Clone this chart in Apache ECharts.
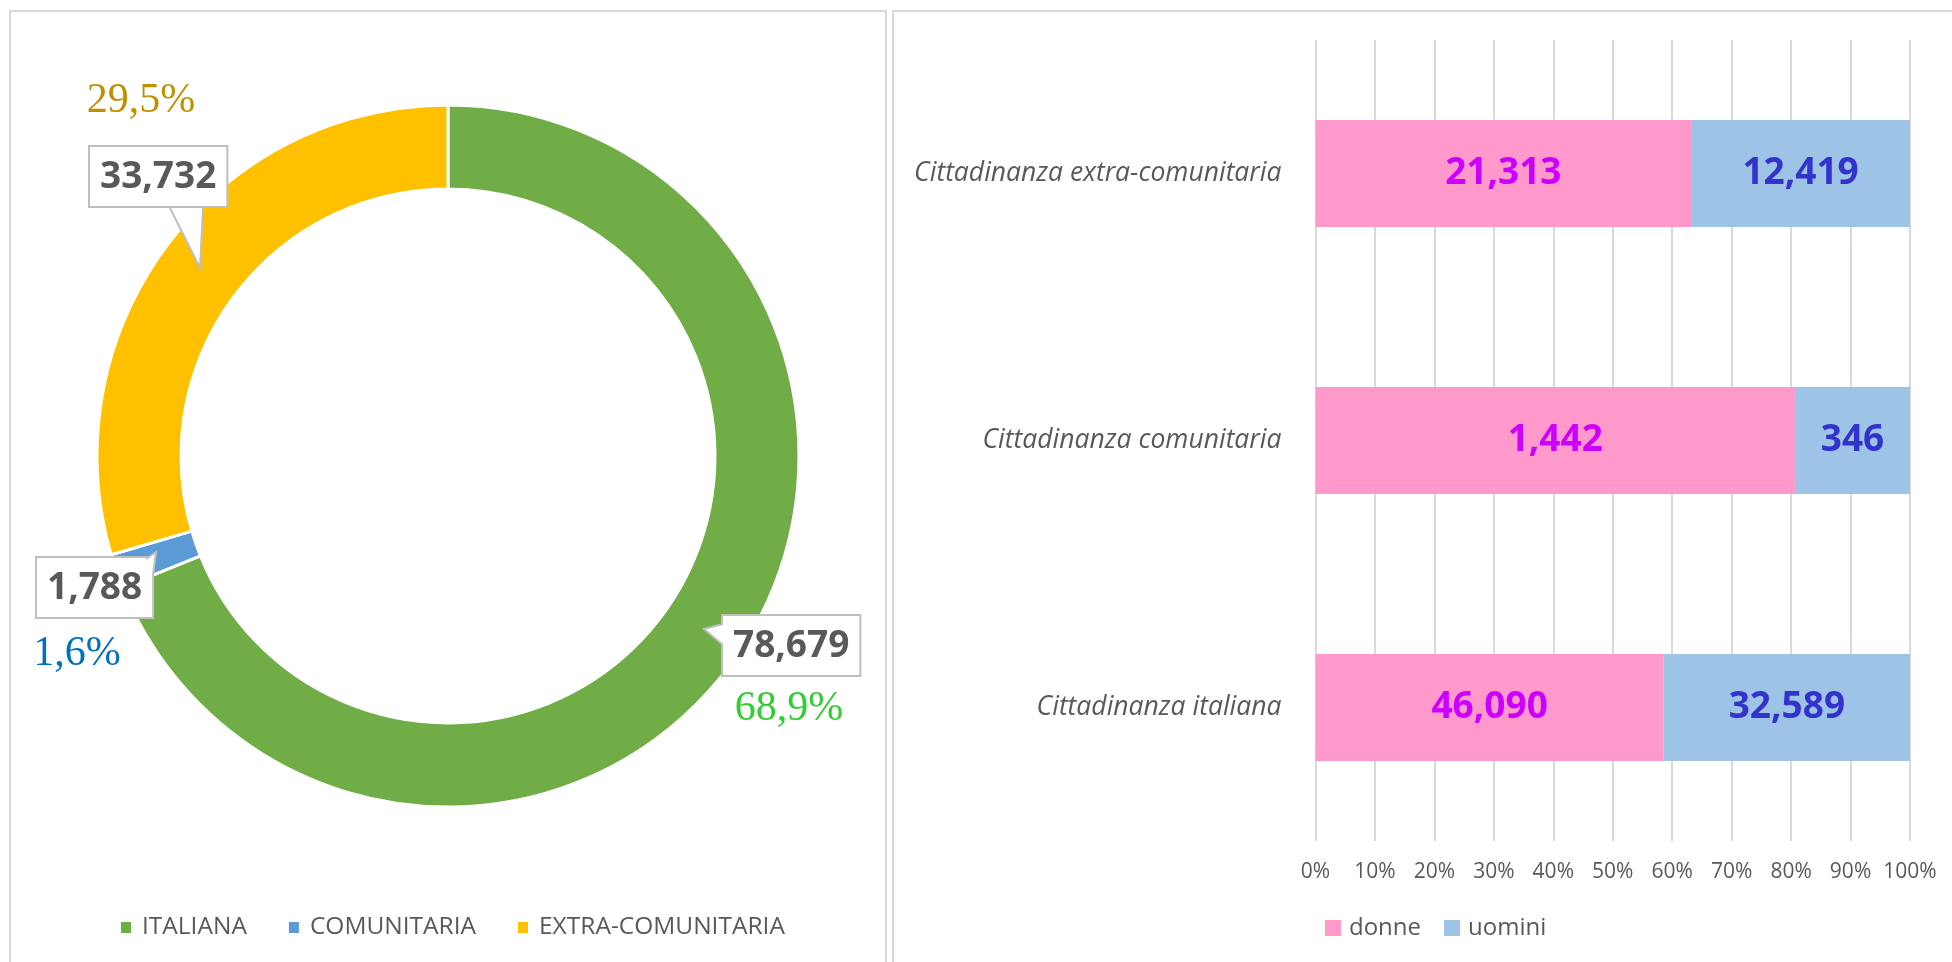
<!DOCTYPE html>
<html>
<head>
<meta charset="utf-8">
<style>
  html,body{margin:0;padding:0;background:#fff}
  #main{width:1952px;height:962px}
</style>
<script src="https://cdn.jsdelivr.net/npm/echarts@6/dist/echarts.min.js"></script>
</head>
<body>
<div id="main"></div>
<script>
// ---------- dati ----------
const pieNames  = ['ITALIANA', 'COMUNITARIA', 'EXTRA-COMUNITARIA'];
const pieValues = [78679, 1788, 33732];

const barCategories = ['Cittadinanza italiana', 'Cittadinanza comunitaria', 'Cittadinanza extra-comunitaria'];
const donne  = [46090, 1442, 21313];
const uomini = [32589, 346, 12419];

// ---------- stile ----------
const pieColors = ['#70AD47', '#5B9BD5', '#FFC000'];
const pctColors = ['#33CC33', '#0070C0', '#BF9000'];
const grey = '#595959';
const sans = 'Open Sans';

// posizioni delle etichette (box valore + percentuale), in px della pagina
const boxPos = [[723, 616], [37, 558], [90, 147]];
const pctPos = [[789, 709], [77, 654], [141, 101]];
// "code" dei fumetti: [base1, punta, base2]
const tails = [
  [[723, 624], [704, 629], [723, 645]],
  [[146, 559], [156, 552], [153, 575]],
  [[170, 208], [200, 268], [203, 208]]
];

const total = pieValues.reduce((a, b) => a + b, 0);
const fmt = v => v.toLocaleString('en-US');
const pct = v => (v / total * 100).toFixed(1).replace('.', ',') + '%';

const tailGraphics = [];
tails.forEach(t => {
  tailGraphics.push({type: 'polygon', z: 10, silent: true, shape: {points: t}, style: {fill: '#fff', stroke: null}});
  tailGraphics.push({type: 'polyline', z: 11, silent: true, shape: {points: t}, style: {fill: null, stroke: '#BFBFBF', lineWidth: 2}});
});

const chart = echarts.init(document.getElementById('main'));
chart.setOption({
  animation: false,
  graphic: [
    {type: 'rect', shape: {x: 10, y: 11, width: 876, height: 960}, style: {fill: 'none', stroke: '#D9D9D9', lineWidth: 2}, silent: true},
    {type: 'rect', shape: {x: 893, y: 11, width: 1080, height: 960}, style: {fill: 'none', stroke: '#D9D9D9', lineWidth: 2}, silent: true}
  ].concat(tailGraphics),
  legend: [
    {
      data: pieNames, left: 119, top: 915, padding: 0, icon: 'rect', itemWidth: 12, itemHeight: 13, itemGap: 40,
      selectedMode: false,
      textStyle: {color: grey, fontFamily: sans, fontSize: 24.5, padding: [0, 0, 0, 5]}
    },
    {
      data: ['donne', 'uomini'], left: 1325, top: 916, padding: 0, icon: 'rect', itemWidth: 16, itemHeight: 16, itemGap: 23,
      selectedMode: false,
      textStyle: {color: grey, fontFamily: sans, fontSize: 24, padding: [0, 0, 0, 3]}
    }
  ],
  grid: {left: 1315.5, right: 42, top: 40, bottom: 121},
  xAxis: {
    type: 'value', min: 0, max: 100, interval: 10,
    axisLine: {show: false}, axisTick: {show: false},
    splitLine: {lineStyle: {color: '#D9D9D9', width: 2}},
    axisLabel: {formatter: '{value}%', color: grey, fontFamily: sans, fontSize: 21, margin: 21}
  },
  yAxis: {
    type: 'category', data: barCategories,
    axisLine: {show: false}, axisTick: {show: false},
    axisLabel: {color: grey, fontFamily: sans, fontStyle: 'italic', fontSize: 26.5, margin: 34}
  },
  series: [
    {
      type: 'pie', center: [448, 456], radius: [267, 351], startAngle: 90, clockwise: true,
      avoidLabelOverlap: false, emphasis: {disabled: true},
      itemStyle: {borderColor: '#fff', borderWidth: 3},
      label: {
        show: true, position: 'outside', formatter: p => fmt(p.value),
        fontFamily: sans, fontWeight: 'bold', fontSize: 37, lineHeight: 46, color: grey,
        backgroundColor: '#fff', borderColor: '#BFBFBF', borderWidth: 2, padding: [7, 10, 6, 10]
      },
      labelLine: {show: false},
      labelLayout: p => {
        const b = boxPos[p.dataIndex];
        return {x: b[0], y: b[1], align: 'left', verticalAlign: 'top'};
      },
      data: pieNames.map((n, i) => ({name: n, value: pieValues[i], itemStyle: {color: pieColors[i]}}))
    },
    {
      // seconda serie trasparente: solo per le etichette percentuali
      type: 'pie', center: [448, 456], radius: [267, 351], startAngle: 90, clockwise: true,
      silent: true, avoidLabelOverlap: false, emphasis: {disabled: true},
      itemStyle: {color: 'rgba(0,0,0,0)', borderWidth: 0},
      label: {
        show: true, position: 'outside', formatter: p => pct(p.value),
        fontFamily: 'Liberation Serif', fontSize: 42
      },
      labelLine: {show: false},
      labelLayout: p => {
        const c = pctPos[p.dataIndex];
        return {x: c[0], y: c[1], align: 'center', verticalAlign: 'middle'};
      },
      data: pieNames.map((n, i) => ({name: n, value: pieValues[i], label: {color: pctColors[i]}}))
    },
    {
      name: 'donne', type: 'bar', stack: 'tot', barWidth: '40%',
      itemStyle: {color: '#FF99CC'},
      label: {show: true, position: 'inside', formatter: p => fmt(donne[p.dataIndex]),
        color: '#CC00FF', fontFamily: sans, fontWeight: 'bold', fontSize: 37},
      data: donne.map((v, i) => v / (v + uomini[i]) * 100)
    },
    {
      name: 'uomini', type: 'bar', stack: 'tot', barWidth: '40%',
      itemStyle: {color: '#9DC3E6'},
      label: {show: true, position: 'inside', formatter: p => fmt(uomini[p.dataIndex]),
        color: '#3333CC', fontFamily: sans, fontWeight: 'bold', fontSize: 37},
      data: uomini.map((v, i) => v / (donne[i] + v) * 100)
    }
  ]
});
</script>
</body>
</html>
